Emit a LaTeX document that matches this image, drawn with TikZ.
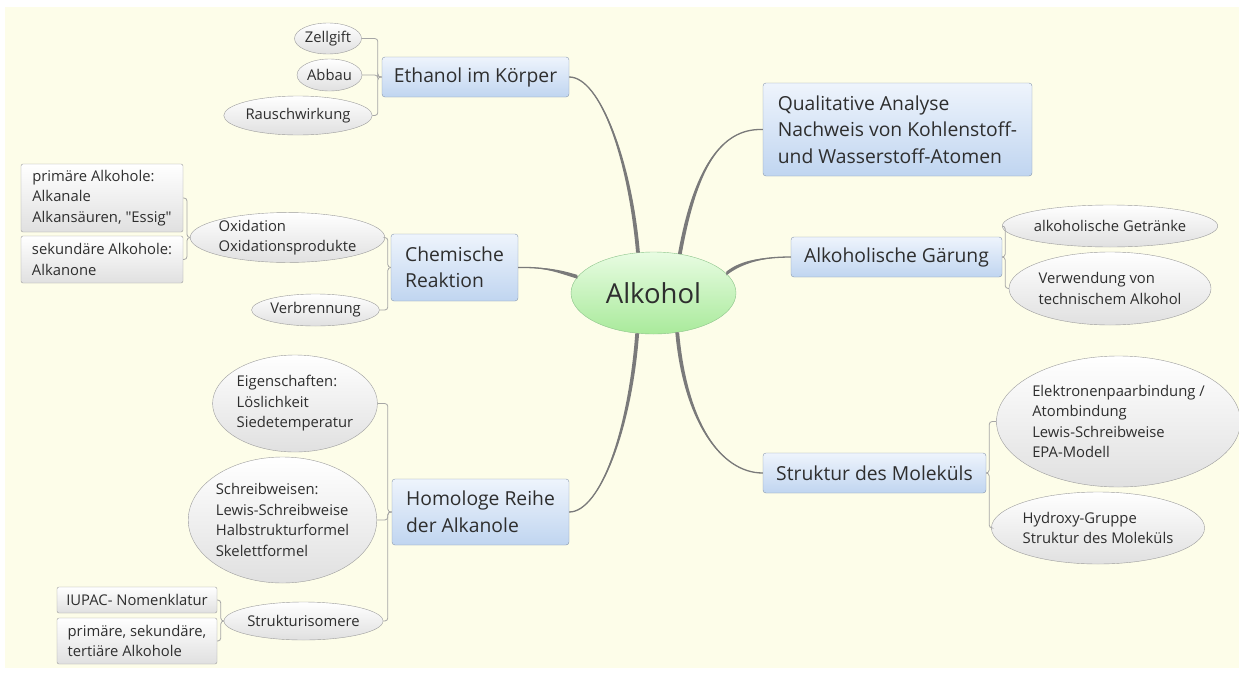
\documentclass[tikz,border=0pt]{standalone}
\usepackage{fontspec}
\setmainfont{Open Sans}[Ligatures=TeXOff]
\usetikzlibrary{shapes.geometric}

\definecolor{paper}{HTML}{FDFDE9}
\definecolor{ink}{HTML}{2E2E2E}
\definecolor{topictop}{HTML}{EEF4FC}
\definecolor{topicbot}{HTML}{C0D5F0}
\definecolor{topicline}{HTML}{8898AE}
\definecolor{notebot}{HTML}{E0E0E0}
\definecolor{noteline}{HTML}{9C9C9C}
\definecolor{hubtop}{HTML}{E8FCE2}
\definecolor{hubbot}{HTML}{A9EA9B}
\definecolor{hubline}{HTML}{8CC48A}
\definecolor{trunkcol}{HTML}{7A7A7A}
\definecolor{twigcol}{HTML}{A6A6A6}

\tikzset{
  wh/.style 2 args={minimum width=#1, minimum height=#2},
  hub/.style={ellipse, draw=hubline, top color=hubtop, bottom color=hubbot,
    inner sep=0pt, text=ink, font=\fontsize{27.5}{32}\selectfont},
  topic/.style={draw=topicline, rounded corners=3pt, top color=topictop,
    bottom color=topicbot, inner sep=0pt, align=left, text=ink,
    font=\fontsize{19.3}{26.5}\selectfont},
  note/.style={ellipse, draw=noteline, top color=white, bottom color=notebot,
    inner sep=0pt, align=left, text=ink, font=\fontsize{14.8}{20.5}\selectfont},
  leaf/.style={draw=noteline, rounded corners=2pt, top color=white,
    bottom color=notebot, inner sep=0pt, align=left, text=ink,
    font=\fontsize{14.8}{20.5}\selectfont},
  twig/.style={draw=twigcol, line width=0.8pt, rounded corners=3pt},
  trunk/.style={fill=trunkcol},
  trunk line/.style={draw=trunkcol, line width=1.3pt}
}

% tapered branch: box anchor, control near box, control near hub, hub anchor, shift key
\newcommand\trunk[5]{%
  \fill[trunk] (#1) .. controls (#2) and ([#5=1.9pt]#3) .. ([#5=1.9pt]#4)
    -- ([#5=-1.9pt]#4) .. controls ([#5=-1.9pt]#3) and (#2) .. (#1);
  \draw[trunk line] (#1) .. controls (#2) and (#3) .. (#4);}

\begin{document}
\begin{tikzpicture}[x=1pt,y=-1pt]
  \useasboundingbox (0,0) rectangle (1239,672);
  \fill[white] (0,0) rectangle (1239,672);
  \fill[paper] (5,7) rectangle (1239,668);

  % centre and main topics
  \node[hub, wh={165}{82}] (alk) at (653.5,293) {Alkohol};
  \node[topic, wh={187}{40}] (eth) at (475.5,77) {Ethanol im Körper};
  \node[topic, wh={127}{67}] (chem) at (454.5,267.5) {Chemische\\Reaktion};
  \node[topic, wh={177}{66}] (hom) at (480.5,512) {Homologe Reihe\\der Alkanole};
  \node[topic, wh={269}{93}] (qual) at (897.5,129.5)
    {Qualitative Analyse\\Nachweis von Kohlenstoff-\\und Wasserstoff-Atomen};
  \node[topic, wh={211}{40}] (gar) at (896.5,257) {Alkoholische Gärung};
  \node[topic, wh={223}{40}] (str) at (874.5,473) {Struktur des Moleküls};

  % Ethanol im Koerper
  \node[note, wh={67}{31}] (zell) at (328,38.5) {Zellgift};
  \node[note, wh={65}{32}] (abb) at (329.5,75) {Abbau};
  \node[note, wh={128}{39}] (rau) at (298,115.5) {Rauschwirkung};

  % Chemische Reaktion
  \node[note, wh={171}{49}] (oxi) at (287.5,237.5) {Oxidation\\Oxidationsprodukte};
  \node[note, wh={113}{32}] (verb) at (315.5,310) {Verbrennung};
  \node[leaf, wh={162}{68}] (pri) at (102,198)
    {primäre Alkohole:\\Alkanale\\Alkansäuren, "Essig"};
  \node[leaf, wh={162}{47}] (sek) at (102,259.5) {sekundäre Alkohole:\\Alkanone};

  % Homologe Reihe
  \node[note, wh={156}{97}] (eig) at (295,403.5)
    {Eigenschaften:\\Löslichkeit\\Siedetemperatur};
  \node[note, wh={183}{126}] (sch) at (282.5,520)
    {Schreibweisen:\\Lewis-Schreibweise\\Halbstrukturformel\\Skelettformel};
  \node[note, wh={137}{38}] (iso) at (303.5,621) {Strukturisomere};
  \node[leaf, wh={160}{26}] (iup) at (137,600) {IUPAC- Nomenklatur};
  \node[leaf, wh={160}{46}] (pst) at (137,641) {primäre, sekundäre,\\tertiäre Alkohole};

  % Gaerung
  \node[note, wh={178}{42}] (getr) at (1110,226) {alkoholische Getränke};
  \node[note, wh={178}{73}] (tech) at (1110,288.5) {Verwendung von\\technischem Alkohol};

  % Struktur
  \node[note, wh={227}{131}] (ele) at (1118.5,421.5)
    {Elektronenpaarbindung /\\Atombindung\\Lewis-Schreibweise\\EPA-Modell};
  \node[note, wh={186}{72}] (hyd) at (1098,528) {Hydroxy-Gruppe\\Struktur des Moleküls};

  % branches from the centre
  \trunk{eth.east}{600,77}{630,160}{alk.111}{xshift}
  \trunk{qual.west}{720,128}{695,170}{alk.56}{xshift}
  \trunk{gar.west}{765,257}{742,261}{alk.15}{yshift}
  \trunk{chem.east}{545,267}{558,271}{alk.168}{yshift}
  \trunk{hom.east}{600,512}{630,430}{alk.248}{xshift}
  \trunk{str.west}{720,473}{685,420}{alk.301}{xshift}

  % brackets
  \foreach \k in {zell,abb,rau} \draw[twig] (eth.west) -- ++(-4,0) |- (\k.east);
  \foreach \k in {oxi,verb} \draw[twig] (chem.west) -- ++(-3,0) |- (\k.east);
  \foreach \k in {pri,sek} \draw[twig] (oxi.west) -- ++(-3,0) |- (\k.east);
  \foreach \k in {eig,sch,iso} \draw[twig] (hom.west) -- ++(-4,0) |- (\k.east);
  \foreach \k in {iup,pst} \draw[twig] (iso.west) -- ++(-3,0) |- (\k.east);
  \foreach \k in {getr,tech} \draw[twig] (gar.east) -- ++(3,0) |- (\k.west);
  \foreach \k in {ele,hyd} \draw[twig] (str.east) -- ++(3,0) |- (\k.west);
\end{tikzpicture}
\end{document}
